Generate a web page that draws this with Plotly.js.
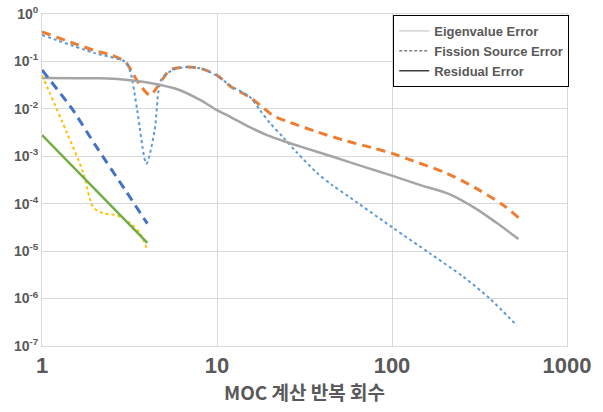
<!DOCTYPE html>
<html>
<head>
<meta charset="utf-8">
<script src="https://cdn.plot.ly/plotly-3.0.1.min.js"></script>
<style>html,body{margin:0;padding:0;background:#fff;}#chart{width:603px;height:412px;}</style>
</head>
<body>
<div id="chart"></div>
<script>
// Long run (to ~530 iterations)
var fissX = [1, 1.5, 2, 2.5, 3, 3.3, 3.63, 4.14, 4.72, 5.39, 6.56, 8, 10, 11.9, 15.4, 18.4, 20.9, 26, 37, 55, 78, 100, 132, 205, 303, 433, 528];
var fissY = [0.42, 0.245, 0.17, 0.135, 0.097, 0.056, 0.032, 0.0195, 0.035, 0.066, 0.076, 0.072, 0.051, 0.03, 0.0175, 0.0105, 0.0072, 0.0052, 0.0033, 0.0021, 0.0015, 0.00115, 0.0008, 0.00044, 0.00021, 0.000093, 0.000051];

var eigX = [1, 2, 3, 3.2, 3.5, 3.95, 4.4, 4.8, 5.6, 6.56, 8, 10, 11.9, 15.4, 17.6, 20, 23.9, 28.6, 37.2, 46, 57.6, 100, 165, 255, 362, 517];
var eigY = [0.36, 0.15, 0.097, 0.06, 0.0094, 0.0007, 0.0035, 0.041, 0.066, 0.076, 0.072, 0.05, 0.031, 0.0178, 0.0094, 0.0051, 0.0025, 0.0012, 0.00045, 0.00024, 0.000135, 0.000032, 0.0000089, 0.0000029, 0.000001, 0.00000027];

var resX = [1, 2.14, 3, 4.14, 6.1, 8, 10, 11.9, 15.4, 19.3, 23.9, 30, 45, 70, 100, 144, 214, 303, 394, 528];
var resY = [0.045, 0.044, 0.041, 0.035, 0.025, 0.0154, 0.0094, 0.0068, 0.0041, 0.0028, 0.0021, 0.0016, 0.001, 0.00059, 0.00039, 0.00025, 0.000158, 0.000078, 0.00004, 0.000018];

// Short run (to 4 iterations)
var fissX2 = [1, 1.5, 2, 3, 4];
var fissY2 = [0.066, 0.0095, 0.0018, 0.00019, 0.000038];

var eigX2 = [1, 1.39, 1.72, 1.96, 2.23, 2.68, 3.18, 3.63, 4];
var eigY2 = [0.051, 0.0031, 0.00045, 0.000085, 0.000063, 0.000057, 0.000039, 0.000024, 0.0000105];

var resX2 = [1, 2, 3, 4];
var resY2 = [0.0028, 0.00021, 0.000045, 0.000015];

var legendNames = ['Eigenvalue Error', 'Fission Source Error', 'Residual Error'];
var yTickVals = [1, 0.1, 0.01, 0.001, 0.0001, 0.00001, 0.000001, 0.0000001];
var yTickText = ['10<sup>0</sup>', '10<sup>-1</sup>', '10<sup>-2</sup>', '10<sup>-3</sup>', '10<sup>-4</sup>', '10<sup>-5</sup>', '10<sup>-6</sup>', '10<sup>-7</sup>'];
var xTickVals = [1, 10, 100, 1000];
var xTickText = ['1', '10', '100', '1000'];
var xTitle = 'MOC 계산 반복 회수';

var traces = [
  {x: fissX, y: fissY, mode: 'lines', line: {color: '#ED7D31', width: 3, dash: '9px,6px', shape: 'spline', smoothing: 0.8}, showlegend: false},
  {x: eigX, y: eigY, mode: 'lines', line: {color: '#5B9BD5', width: 2, dash: 'dot', shape: 'spline', smoothing: 0.8}, showlegend: false},
  {x: resX, y: resY, mode: 'lines', line: {color: '#A5A5A5', width: 2.5, shape: 'spline', smoothing: 0.8}, showlegend: false},
  {x: fissX2, y: fissY2, mode: 'lines', line: {color: '#4472C4', width: 3, dash: '9px,6px', shape: 'spline', smoothing: 0.6}, showlegend: false},
  {x: eigX2, y: eigY2, mode: 'lines', line: {color: '#FFC000', width: 2, dash: 'dot', shape: 'spline', smoothing: 0.8}, showlegend: false},
  {x: resX2, y: resY2, mode: 'lines', line: {color: '#70AD47', width: 2.5, shape: 'linear'}, showlegend: false},
  {x: [null], y: [null], mode: 'lines', name: legendNames[0], line: {color: '#BFBFBF', width: 1}},
  {x: [null], y: [null], mode: 'lines', name: legendNames[1], line: {color: '#404040', width: 1, dash: '3px,2px'}},
  {x: [null], y: [null], mode: 'lines', name: legendNames[2], line: {color: '#404040', width: 1.5}}
];

var layout = {
  width: 603, height: 412,
  margin: {l: 42, r: 36, t: 14, b: 66},
  paper_bgcolor: '#fff', plot_bgcolor: '#fff',
  font: {family: 'Liberation Sans, Arial, sans-serif', color: '#595959'},
  xaxis: {
    type: 'log', range: [0, 3],
    tickvals: xTickVals, ticktext: xTickText,
    tickfont: {size: 22, family: 'Liberation Sans, Arial, sans-serif', color: '#595959', weight: 'bold'},
    showgrid: true, gridcolor: '#D9D9D9', gridwidth: 1,
    showline: true, linecolor: '#D9D9D9', linewidth: 1, mirror: true,
    ticks: '', zeroline: false,
    title: {text: xTitle, font: {size: 19, family: 'Noto Sans CJK KR, sans-serif', color: '#595959', weight: 'bold'}, standoff: 7}
  },
  yaxis: {
    type: 'log', range: [-7, 0],
    tickvals: yTickVals, ticktext: yTickText,
    tickfont: {size: 14, family: 'Liberation Sans, Arial, sans-serif', color: '#595959', weight: 'bold'},
    showgrid: true, gridcolor: '#D9D9D9', gridwidth: 1,
    showline: true, linecolor: '#D9D9D9', linewidth: 1, mirror: true,
    ticks: '', zeroline: false
  },
  legend: {
    x: 0.669, y: 0.997, xanchor: 'left', yanchor: 'top',
    bgcolor: '#fff', bordercolor: '#000', borderwidth: 1,
    font: {size: 13, family: 'Liberation Sans, Arial, sans-serif', color: '#595959', weight: 'bold'},
    itemwidth: 30, tracegroupgap: 0
  },
  showlegend: true
};

Plotly.newPlot('chart', traces, layout, {displayModeBar: false, staticPlot: true});
</script>
</body>
</html>
